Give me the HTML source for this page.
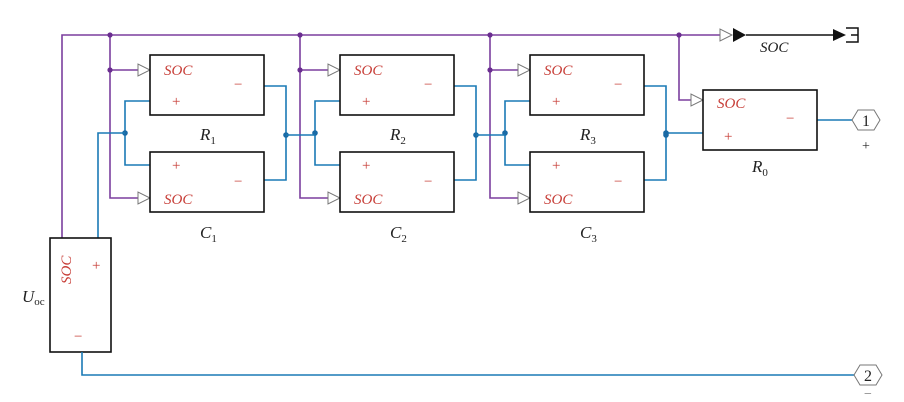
<!DOCTYPE html>
<html><head><meta charset="utf-8"><style>
body{margin:0;background:#fff}
svg{display:block}
text{font-family:"Liberation Serif",serif}
.soc{fill:#c8403a;font-style:italic;font-size:15px}
.sg{fill:#c8403a;font-size:15px}
.lab{fill:#222;font-style:italic;font-size:17px}
.sub{font-style:normal;font-size:11px}
</style></head><body>
<svg width="904" height="402" viewBox="0 0 904 402" xmlns="http://www.w3.org/2000/svg">
<defs>
<g id="stage">
  <path d="M110 35V198H138M110 70H138" fill="none" stroke="#7b3f9e" stroke-width="1.6"/>
  <circle cx="110" cy="35" r="2.6" fill="#6a2d90"/>
  <circle cx="110" cy="70" r="2.6" fill="#6a2d90"/>
  <polygon points="138,64 138,76 150,70" fill="#fff" stroke="#777" stroke-width="1"/>
  <polygon points="138,192 138,204 150,198" fill="#fff" stroke="#777" stroke-width="1"/>
  <path d="M150 101H125V165H150M264 86H286V180H264" fill="none" stroke="#1a7ab5" stroke-width="1.6"/>
  <circle cx="125" cy="133" r="2.8" fill="#1a6aa5"/>
  <circle cx="286" cy="135" r="2.8" fill="#1a6aa5"/>
  <rect x="150" y="55" width="114" height="60" fill="#fff" stroke="#111" stroke-width="1.6"/>
  <rect x="150" y="152" width="114" height="60" fill="#fff" stroke="#111" stroke-width="1.6"/>
  <text x="164" y="75" class="soc">SOC</text>
  <text x="172" y="106" class="sg">+</text>
  <text x="234" y="89" class="sg">−</text>
  <text x="172" y="170" class="sg">+</text>
  <text x="164" y="204" class="soc">SOC</text>
  <text x="234" y="186" class="sg">−</text>
</g>
</defs>
<path d="M62 238V35H720" fill="none" stroke="#7b3f9e" stroke-width="1.6"/>
<polygon points="720,29 720,41 732,35" fill="#fff" stroke="#777" stroke-width="1"/>
<polygon points="733,28 733,42 746,35" fill="#111"/>
<path d="M746 35H833" stroke="#111" stroke-width="1.5"/>
<polygon points="833,29 833,41 846,35" fill="#111"/>
<path d="M846 28H858V42H846M851 35H858" fill="none" stroke="#111" stroke-width="1.5"/>
<text x="760" y="52" class="lab" style="font-size:15px">SOC</text>

<use href="#stage"/>
<use href="#stage" transform="translate(190,0)"/>
<use href="#stage" transform="translate(380,0)"/>
<path d="M286 135H315M476 135H505" stroke="#1a7ab5" stroke-width="1.6"/>
<path d="M98 238V133H125" fill="none" stroke="#1a7ab5" stroke-width="1.6"/>

<path d="M679 35V100H691" fill="none" stroke="#7b3f9e" stroke-width="1.6"/>
<circle cx="679" cy="35" r="2.6" fill="#6a2d90"/>
<polygon points="691,94 691,106 703,100" fill="#fff" stroke="#777" stroke-width="1"/>
<path d="M666 133H703M817 120H852" fill="none" stroke="#1a7ab5" stroke-width="1.6"/>
<circle cx="666" cy="133" r="2.8" fill="#1a6aa5"/>
<rect x="703" y="90" width="114" height="60" fill="#fff" stroke="#111" stroke-width="1.6"/>
<text x="717" y="108" class="soc">SOC</text>
<text x="724" y="141" class="sg">+</text>
<text x="786" y="123" class="sg">−</text>
<polygon points="852,120 858,110 874,110 880,120 874,130 858,130" fill="#fff" stroke="#777" stroke-width="1"/>
<text x="866" y="126" text-anchor="middle" font-size="16" fill="#222">1</text>
<text x="866" y="150" text-anchor="middle" font-size="14" fill="#222">+</text>

<rect x="50" y="238" width="61" height="114" fill="#fff" stroke="#111" stroke-width="1.6"/>
<text transform="translate(71,284) rotate(-90)" class="soc" x="0" y="0">SOC</text>
<text x="92" y="270" class="sg">+</text>
<text x="74" y="341" class="sg">−</text>
<path d="M82 352V375H854" fill="none" stroke="#1a7ab5" stroke-width="1.6"/>
<polygon points="854,375 860,365 876,365 882,375 876,385 860,385" fill="#fff" stroke="#777" stroke-width="1"/>
<text x="868" y="381" text-anchor="middle" font-size="16" fill="#222">2</text>
<text x="868" y="398" text-anchor="middle" font-size="14" fill="#777">−</text>

<text x="200" y="140" class="lab">R<tspan class="sub" dy="4">1</tspan></text>
<text x="200" y="238" class="lab">C<tspan class="sub" dy="4">1</tspan></text>
<text x="390" y="140" class="lab">R<tspan class="sub" dy="4">2</tspan></text>
<text x="390" y="238" class="lab">C<tspan class="sub" dy="4">2</tspan></text>
<text x="580" y="140" class="lab">R<tspan class="sub" dy="4">3</tspan></text>
<text x="580" y="238" class="lab">C<tspan class="sub" dy="4">3</tspan></text>
<text x="752" y="172" class="lab">R<tspan class="sub" dy="4">0</tspan></text>
<text x="22" y="302" class="lab">U<tspan class="sub" dy="3">oc</tspan></text>
</svg>
</body></html>
